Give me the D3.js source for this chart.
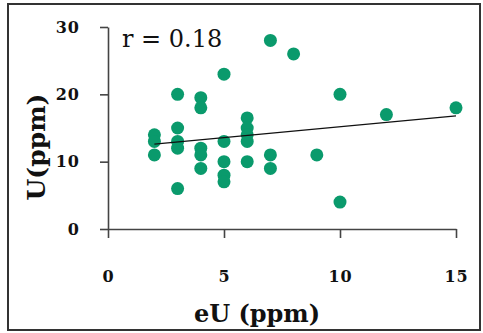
<!DOCTYPE html>
<html>
<head>
<meta charset="utf-8">
<script src="https://cdn.jsdelivr.net/npm/d3@7"></script>
<style>
  body { margin: 0; background: #fff; }
  svg { display: block; }
</style>
</head>
<body>
<div id="chart"></div>
<script>
// eU vs U
const eU = [2, 2, 2, 3, 3, 3, 3, 3, 4, 4, 4, 4, 4, 5, 5, 5, 5, 5, 6, 6, 6, 6, 6, 7, 7, 7, 8, 9, 10, 10, 12, 15];
const U = [14, 13, 11, 20, 15, 13, 12, 6, 19.5, 18, 12, 11, 9, 23, 13, 10, 8, 7, 16.5, 15, 14, 13, 10, 28, 11, 9, 26, 11, 20, 4, 17, 18];
const trendX = [2, 15];
const trendY = [12.6, 16.8];
const xTicks = [0, 5, 10, 15];
const yTicks = [0, 10, 20, 30];
const rLabel = 'r = 0.18';

const width = 483, height = 333;
const margin = { left: 108, top: 27, right: 27, bottom: 104 };

const svg = d3.select('#chart').append('svg')
    .attr('width', width)
    .attr('height', height);

// frame
svg.append('rect')
    .attr('x', 8).attr('y', 4)
    .attr('width', 472).attr('height', 326)
    .attr('fill', 'none')
    .attr('stroke', '#333')
    .attr('stroke-width', 2);

const x = d3.scaleLinear()
    .domain([0, 15])
    .range([margin.left, width - margin.right]);

const y = d3.scaleLinear()
    .domain([0, 30])
    .range([height - margin.bottom, margin.top]);

const tickFont = g => g.selectAll('text')
    .attr('font-family', '"DejaVu Serif", serif')
    .attr('font-weight', 'bold')
    .attr('font-size', 16)
    .attr('letter-spacing', 1)
    .attr('fill', '#111');

svg.append('g')
    .attr('transform', 'translate(0,' + y(0) + ')')
    .call(d3.axisBottom(x).tickValues(xTicks).tickSize(9).tickPadding(33).tickSizeOuter(0))
    .call(tickFont)
    .call(g => g.select('.domain').attr('stroke', '#444').attr('stroke-width', 1.6))
    .call(g => g.selectAll('line').attr('stroke', '#444').attr('stroke-width', 1.6));

svg.append('g')
    .attr('transform', 'translate(' + x(0) + ',0)')
    .call(d3.axisLeft(y).tickValues(yTicks).tickSize(8).tickPadding(20).tickSizeOuter(0))
    .call(tickFont)
    .call(g => g.select('.domain').attr('stroke', '#444').attr('stroke-width', 1.6))
    .call(g => g.selectAll('line').attr('stroke', '#444').attr('stroke-width', 1.6));

// points
svg.append('g')
    .selectAll('circle')
    .data(eU.map((d, i) => ({ x: d, y: U[i] })))
    .enter()
    .append('circle')
    .attr('cx', d => x(d.x))
    .attr('cy', d => y(d.y))
    .attr('r', 6.5)
    .attr('fill', '#0a9a6c');

// trend line
svg.append('path')
    .datum(trendX.map((d, i) => [d, trendY[i]]))
    .attr('fill', 'none')
    .attr('stroke', '#111')
    .attr('stroke-width', 1.3)
    .attr('d', d3.line().x(d => x(d[0])).y(d => y(d[1])));

svg.append('text')
    .attr('x', 122).attr('y', 47)
    .attr('font-family', '"DejaVu Serif", serif')
    .attr('font-size', 24)
    .attr('fill', '#111')
    .text(rLabel);

svg.append('text')
    .attr('x', 257).attr('y', 322)
    .attr('text-anchor', 'middle')
    .attr('font-family', '"DejaVu Serif", serif')
    .attr('font-weight', 'bold')
    .attr('font-size', 24)
    .attr('fill', '#111')
    .text('eU (ppm)');

svg.append('text')
    .attr('transform', 'translate(45,147) rotate(-90)')
    .attr('text-anchor', 'middle')
    .attr('font-family', '"DejaVu Serif", serif')
    .attr('font-weight', 'bold')
    .attr('font-size', 25)
    .attr('fill', '#111')
    .text('U(ppm)');
</script>
</body>
</html>
